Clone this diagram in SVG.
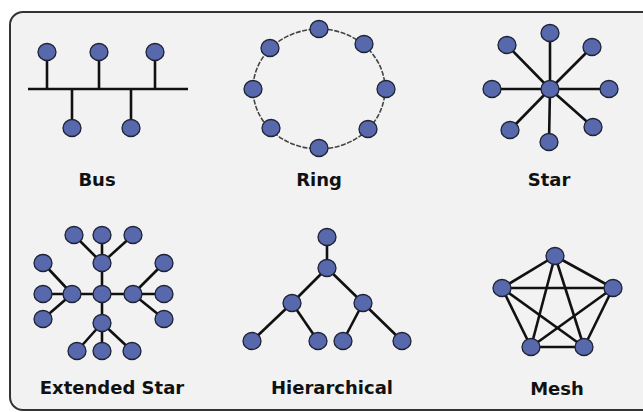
<svg xmlns="http://www.w3.org/2000/svg" width="643" height="412" viewBox="0 0 643 412">
<style>
.n{fill:#5868ad;stroke:#1e2233;stroke-width:1.3}
.l{stroke:#111;stroke-width:2.6;fill:none;stroke-linecap:butt}
.r{stroke:#444;stroke-width:1.6;fill:none;stroke-dasharray:5 1.5}
.t{font-family:"DejaVu Sans",Verdana,sans-serif;font-weight:bold;font-size:18px;fill:#111;text-anchor:middle}
</style>
<rect x="0" y="0" width="643" height="412" fill="#ffffff"/>
<rect x="10" y="12" width="660" height="398" rx="13" fill="#f2f2f2" stroke="#333" stroke-width="2"/>
<g id="connectors">
<line class="l" x1="28" y1="89" x2="188" y2="89"/>
<line class="l" x1="47" y1="52" x2="47" y2="89"/>
<line class="l" x1="99" y1="52" x2="99" y2="89"/>
<line class="l" x1="155" y1="52" x2="155" y2="89"/>
<line class="l" x1="72" y1="89" x2="72" y2="128"/>
<line class="l" x1="131" y1="89" x2="131" y2="128"/>
<ellipse class="r" cx="319" cy="89" rx="66" ry="60"/>
<g>
<line class="l" x1="550" y1="89" x2="550" y2="33"/>
<line class="l" x1="550" y1="89" x2="507" y2="45"/>
<line class="l" x1="550" y1="89" x2="592" y2="47"/>
<line class="l" x1="550" y1="89" x2="492" y2="89"/>
<line class="l" x1="550" y1="89" x2="609" y2="89"/>
<line class="l" x1="550" y1="89" x2="510" y2="130"/>
<line class="l" x1="550" y1="89" x2="549" y2="142"/>
<line class="l" x1="550" y1="89" x2="593" y2="127"/>
</g>
<g>
<line class="l" x1="43" y1="294" x2="164" y2="294"/>
<line class="l" x1="102" y1="263" x2="102" y2="323"/>
<line class="l" x1="102" y1="263" x2="74" y2="235"/>
<line class="l" x1="102" y1="263" x2="102" y2="235"/>
<line class="l" x1="102" y1="263" x2="133" y2="235"/>
<line class="l" x1="72" y1="294" x2="43" y2="263"/>
<line class="l" x1="72" y1="294" x2="43" y2="319"/>
<line class="l" x1="133" y1="294" x2="164" y2="263"/>
<line class="l" x1="133" y1="294" x2="164" y2="319"/>
<line class="l" x1="102" y1="323" x2="77" y2="351"/>
<line class="l" x1="102" y1="323" x2="102" y2="351"/>
<line class="l" x1="102" y1="323" x2="132" y2="351"/>
</g>
<g>
<line class="l" x1="327" y1="237" x2="327" y2="268"/>
<line class="l" x1="327" y1="268" x2="292" y2="303"/>
<line class="l" x1="327" y1="268" x2="363" y2="303"/>
<line class="l" x1="292" y1="303" x2="252" y2="341"/>
<line class="l" x1="292" y1="303" x2="318" y2="341"/>
<line class="l" x1="363" y1="303" x2="343" y2="341"/>
<line class="l" x1="363" y1="303" x2="402" y2="341"/>
</g>
<g>
<line class="l" x1="555" y1="256" x2="502" y2="288"/>
<line class="l" x1="555" y1="256" x2="613" y2="288"/>
<line class="l" x1="555" y1="256" x2="531" y2="347"/>
<line class="l" x1="555" y1="256" x2="584" y2="347"/>
<line class="l" x1="502" y1="288" x2="613" y2="288"/>
<line class="l" x1="502" y1="288" x2="531" y2="347"/>
<line class="l" x1="502" y1="288" x2="584" y2="347"/>
<line class="l" x1="613" y1="288" x2="531" y2="347"/>
<line class="l" x1="613" y1="288" x2="584" y2="347"/>
<line class="l" x1="531" y1="347" x2="584" y2="347"/>
</g>
</g>
<g id="bus">
<ellipse class="n" cx="47" cy="52" rx="9" ry="8.5"/>
<ellipse class="n" cx="99" cy="52" rx="9" ry="8.5"/>
<ellipse class="n" cx="155" cy="52" rx="9" ry="8.5"/>
<ellipse class="n" cx="72" cy="128" rx="9" ry="8.5"/>
<ellipse class="n" cx="131" cy="128" rx="9" ry="8.5"/>
<text class="t" x="97" y="186">Bus</text>
</g>
<g id="ring">
<ellipse class="n" cx="319" cy="29" rx="9" ry="8.5"/>
<ellipse class="n" cx="364" cy="44" rx="9" ry="8.5"/>
<ellipse class="n" cx="386" cy="89" rx="9" ry="8.5"/>
<ellipse class="n" cx="368" cy="129" rx="9" ry="8.5"/>
<ellipse class="n" cx="319" cy="148" rx="9" ry="8.5"/>
<ellipse class="n" cx="271" cy="128" rx="9" ry="8.5"/>
<ellipse class="n" cx="253" cy="89" rx="9" ry="8.5"/>
<ellipse class="n" cx="270" cy="48" rx="9" ry="8.5"/>
<text class="t" x="319" y="186">Ring</text>
</g>
<g id="star">
<ellipse class="n" cx="550" cy="89" rx="9" ry="8.5"/>
<ellipse class="n" cx="550" cy="33" rx="9" ry="8.5"/>
<ellipse class="n" cx="507" cy="45" rx="9" ry="8.5"/>
<ellipse class="n" cx="592" cy="47" rx="9" ry="8.5"/>
<ellipse class="n" cx="492" cy="89" rx="9" ry="8.5"/>
<ellipse class="n" cx="609" cy="89" rx="9" ry="8.5"/>
<ellipse class="n" cx="510" cy="130" rx="9" ry="8.5"/>
<ellipse class="n" cx="549" cy="142" rx="9" ry="8.5"/>
<ellipse class="n" cx="593" cy="127" rx="9" ry="8.5"/>
<text class="t" x="549" y="186">Star</text>
</g>
<g id="extended-star">
<ellipse class="n" cx="102" cy="294" rx="9" ry="8.5"/>
<ellipse class="n" cx="72" cy="294" rx="9" ry="8.5"/>
<ellipse class="n" cx="133" cy="294" rx="9" ry="8.5"/>
<ellipse class="n" cx="102" cy="263" rx="9" ry="8.5"/>
<ellipse class="n" cx="102" cy="323" rx="9" ry="8.5"/>
<ellipse class="n" cx="74" cy="235" rx="9" ry="8.5"/>
<ellipse class="n" cx="102" cy="235" rx="9" ry="8.5"/>
<ellipse class="n" cx="133" cy="235" rx="9" ry="8.5"/>
<ellipse class="n" cx="43" cy="263" rx="9" ry="8.5"/>
<ellipse class="n" cx="43" cy="294" rx="9" ry="8.5"/>
<ellipse class="n" cx="43" cy="319" rx="9" ry="8.5"/>
<ellipse class="n" cx="164" cy="263" rx="9" ry="8.5"/>
<ellipse class="n" cx="164" cy="294" rx="9" ry="8.5"/>
<ellipse class="n" cx="164" cy="319" rx="9" ry="8.5"/>
<ellipse class="n" cx="77" cy="351" rx="9" ry="8.5"/>
<ellipse class="n" cx="102" cy="351" rx="9" ry="8.5"/>
<ellipse class="n" cx="132" cy="351" rx="9" ry="8.5"/>
<text class="t" x="112" y="394">Extended Star</text>
</g>
<g id="hierarchical">
<ellipse class="n" cx="327" cy="237" rx="9" ry="8.5"/>
<ellipse class="n" cx="327" cy="268" rx="9" ry="8.5"/>
<ellipse class="n" cx="292" cy="303" rx="9" ry="8.5"/>
<ellipse class="n" cx="363" cy="303" rx="9" ry="8.5"/>
<ellipse class="n" cx="252" cy="341" rx="9" ry="8.5"/>
<ellipse class="n" cx="318" cy="341" rx="9" ry="8.5"/>
<ellipse class="n" cx="343" cy="341" rx="9" ry="8.5"/>
<ellipse class="n" cx="402" cy="341" rx="9" ry="8.5"/>
<text class="t" x="332" y="394">Hierarchical</text>
</g>
<g id="mesh">
<ellipse class="n" cx="555" cy="256" rx="9" ry="8.5"/>
<ellipse class="n" cx="502" cy="288" rx="9" ry="8.5"/>
<ellipse class="n" cx="613" cy="288" rx="9" ry="8.5"/>
<ellipse class="n" cx="531" cy="347" rx="9" ry="8.5"/>
<ellipse class="n" cx="584" cy="347" rx="9" ry="8.5"/>
<text class="t" x="557" y="395">Mesh</text>
</g>
</svg>
